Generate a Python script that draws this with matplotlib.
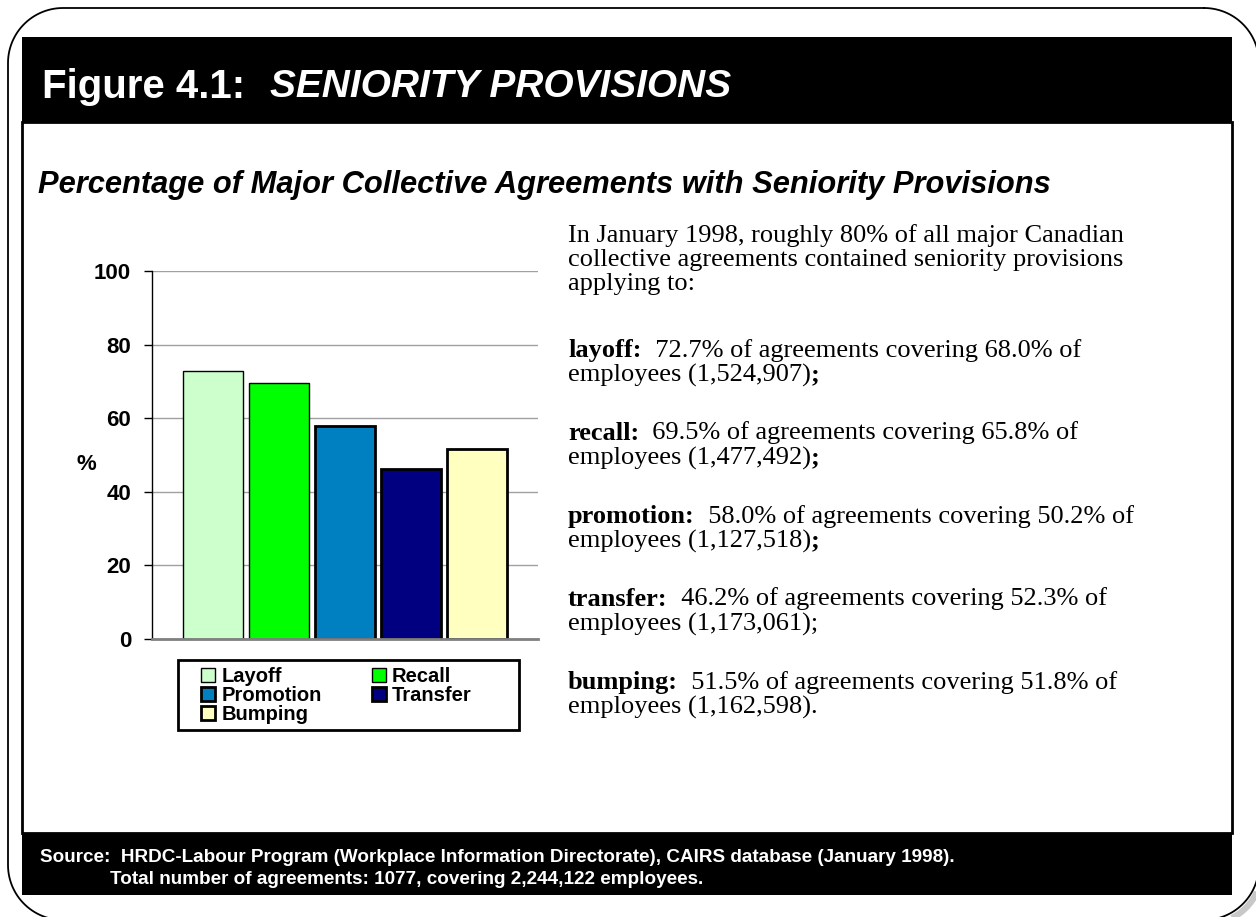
import numpy as np
import matplotlib
matplotlib.use('Agg')
import matplotlib.pyplot as plt
from matplotlib.patches import Rectangle
from matplotlib.offsetbox import TextArea, HPacker, AnchoredOffsetbox

W, H = 1256, 917

categories = ['Layoff', 'Recall', 'Promotion', 'Transfer', 'Bumping']
shares = [72.7, 69.5, 58.0, 46.2, 51.5]
bar_colors = ['#CCFFCC', '#00FF00', '#0080C0', '#000080', '#FFFFC0']
bar_edge_widths = [1.0, 1.0, 2.0, 2.0, 2.0]
y_ticks = [0, 20, 40, 60, 80, 100]

title_num = 'Figure 4.1:'
title_name = 'SENIORITY PROVISIONS'
subtitle = 'Percentage of Major Collective Agreements with Seniority Provisions'
intro = ['In January 1998, roughly 80% of all major Canadian',
         'collective agreements contained seniority provisions',
         'applying to:']
# bold term, rest of first line, second line, bold trailing punctuation
details = [
    ('layoff:', '  72.7% of agreements covering 68.0% of', 'employees (1,524,907)', ';'),
    ('recall:', '  69.5% of agreements covering 65.8% of', 'employees (1,477,492)', ';'),
    ('promotion:', '  58.0% of agreements covering 50.2% of', 'employees (1,127,518)', ';'),
    ('transfer:', '  46.2% of agreements covering 52.3% of', 'employees (1,173,061);', ''),
    ('bumping:', '  51.5% of agreements covering 51.8% of', 'employees (1,162,598).', ''),
]
source_1 = 'Source:  HRDC-Labour Program (Workplace Information Directorate), CAIRS database (January 1998).'
source_2 = 'Total number of agreements: 1077, covering 2,244,122 employees.'

SANS = 'Liberation Sans'
SERIF = 'Liberation Serif'
BODY = 19

fig = plt.figure(figsize=(W / 100, H / 100), dpi=100)

# page layer in pixel units
bg = fig.add_axes([0, 0, 1, 1], zorder=-1)
bg.set_xlim(0, W)
bg.set_ylim(0, H)
bg.axis('off')


def Y(y):
    """distance from the top edge -> bg y coordinate"""
    return H - y


def rect(x0, y0, x1, y1, **kw):
    p = Rectangle((x0, Y(y1)), x1 - x0, y1 - y0, **kw)
    bg.add_patch(p)
    return p


def rounded_outline(x0, y0, x1, y1, r):
    """closed outline of a rectangle with circular corners, top-left origin"""
    xs, ys = [], []
    corners = [(x1 - r, y0 + r, -90, 0), (x1 - r, y1 - r, 0, 90),
               (x0 + r, y1 - r, 90, 180), (x0 + r, y0 + r, 180, 270)]
    for cx, cy, a0, a1 in corners:
        t = np.radians(np.linspace(a0, a1, 30))
        xs.extend(cx + r * np.cos(t))
        ys.extend(cy + r * np.sin(t))
    xs.append(xs[0])
    ys.append(ys[0])
    return np.array(xs), Y(np.array(ys))


# rounded outer frame; its shadow only shows round the lower right corner
sx, sy = rounded_outline(12, 12, 1262, 924, 55)
keep = (sx > 1150) & (sy < 90)
bg.plot(np.where(keep, sx, np.nan), sy, color='#c8c8c8', linewidth=4.5,
        solid_capstyle='butt')
fx, fy = rounded_outline(8, 8, 1259, 920, 55)
bg.plot(fx, fy, color='black', linewidth=1.3)

# content panel, header and footer bands
rect(22, 122, 1232, 833, facecolor='white', edgecolor='black', linewidth=2)
rect(22, 37, 1232, 122, facecolor='black', linewidth=0)
rect(22, 833, 1232, 895, facecolor='black', linewidth=0)

bg.text(42, Y(87), title_num, color='white', fontsize=29, fontweight='bold',
        family=SANS, va='center')
bg.text(270, Y(87), title_name, color='white', fontsize=28, fontweight='bold',
        style='italic', family=SANS, va='center')
bg.text(38, Y(185), subtitle, fontsize=22.2, fontweight='bold', style='italic',
        family=SANS, va='center')

bg.text(40, Y(857), source_1, color='white', fontsize=13.6, fontweight='bold',
        family=SANS, va='center')
bg.text(110, Y(879), source_2, color='white', fontsize=13.6, fontweight='bold',
        family=SANS, va='center')

# bar chart
ax = fig.add_axes([152 / W, 1 - 639 / H, (538 - 152) / W, (639 - 271) / H], zorder=1)
x = range(len(categories))
bars = ax.bar(x, shares, width=0.91, color=bar_colors, edgecolor='black',
              linewidth=bar_edge_widths, zorder=3)
ax.set_xlim(-0.93, 4.92)
ax.set_ylim(0, 100)
ax.set_yticks(y_ticks)
ax.set_yticklabels([str(v) for v in y_ticks], fontsize=16, fontweight='bold',
                   family=SANS)
ax.tick_params(axis='y', length=6, width=1, pad=9, direction='out')
ax.tick_params(axis='x', length=0, labelbottom=False)
ax.yaxis.grid(True, color='#a0a0a0', linewidth=1, zorder=0)
for s in ['top', 'right']:
    ax.spines[s].set_visible(False)
ax.spines['left'].set_linewidth(1)
ax.spines['bottom'].set_color('#808080')
ax.spines['bottom'].set_linewidth(2)
ax.spines['bottom'].set_zorder(4)
ax.set_facecolor('none')
bg.text(86, Y(464), '%', fontsize=16, fontweight='bold', family=SANS,
        va='center', ha='center')

# row-wise legend: Layoff Recall / Promotion Transfer / Bumping
rect(178, 660, 519, 730, facecolor='white', edgecolor='black', linewidth=2)
order = [0, 2, 4, 1, 3]
leg = ax.legend([bars[i] for i in order], [categories[i] for i in order],
                ncol=2, loc='upper left', bbox_to_anchor=(201 / W, 1 - 667 / H),
                bbox_transform=fig.transFigure, frameon=False,
                prop={'family': SANS, 'weight': 'bold', 'size': 14.5},
                handlelength=0.7, handleheight=0.7, handletextpad=0.3,
                labelspacing=0.0, columnspacing=2.5, borderpad=0,
                borderaxespad=0)

# explanatory text on the right
for i, line in enumerate(intro):
    bg.text(568, Y(236 + 24 * i), line, fontsize=BODY, family=SERIF, va='center')


def text_row(parts, y):
    areas = [TextArea(s, textprops=dict(fontsize=BODY, family=SERIF,
                                        fontweight='bold' if b else 'normal'))
             for s, b in parts if s]
    row = HPacker(children=areas, pad=0, sep=0)
    bg.add_artist(AnchoredOffsetbox(loc='center left', child=row, pad=0,
                                    borderpad=0, frameon=False,
                                    bbox_to_anchor=(568, Y(y)),
                                    bbox_transform=bg.transData))


for k, (term, rest, line2, punct) in enumerate(details):
    y = 350 + 83 * k
    text_row([(term, True), (rest, False)], y)
    text_row([(line2, False), (punct, True)], y + 25)

fig.savefig('out.png', dpi=100)
